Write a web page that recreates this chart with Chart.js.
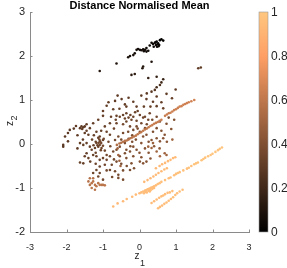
<!DOCTYPE html>
<html>
<head>
<meta charset="utf-8">
<script src="https://cdn.jsdelivr.net/npm/chart.js@4.4.1/dist/chart.umd.min.js"></script>
<style>
  html, body { margin: 0; padding: 0; background: #fff; }
</style>
</head>
<body>
<canvas id="chart-scatter" width="287" height="268"></canvas>
<script>
"use strict";

// each row: [z1, z2, distance normalised mean]
const topGroup = [
    [0.47,2.33,0.02],[0.51,2.29,0.02],[0.45,2.25,0.03],[0.56,2.36,0.01],[0.60,2.38,0.01],[0.65,2.35,0.02],
    [0.42,2.30,0.03],[0.37,2.27,0.03],[0.33,2.30,0.03],[0.48,2.21,0.04],[0.54,2.25,0.03],[0.39,2.21,0.04],
    [0.28,2.24,0.04],[0.50,2.27,0.02],[0.44,2.31,0.02],[0.52,2.22,0.03],[0.19,2.18,0.05],[0.15,2.14,0.05],
    [0.10,2.15,0.05],[0.05,2.13,0.06],[0.01,2.14,0.06],[-0.04,2.16,0.06],[-0.08,2.14,0.07],[0.24,2.12,0.06],
    [0.19,2.10,0.06],[0.12,2.11,0.06],[-0.13,2.06,0.07],[-0.17,2.02,0.08],[-0.26,2.00,0.08],[-0.31,1.97,0.09],
    [-0.63,1.83,0.10],[0.33,1.87,0.10],[0.10,1.76,0.12],[0.08,1.72,0.12],[-0.13,1.59,0.14],[-0.22,1.57,0.14],
    [-1.09,1.66,0.12],[0.47,1.53,0.16],[0.24,1.50,0.17],[0.65,1.47,0.18],[0.60,1.40,0.20],[0.47,1.29,0.22],
    [1.61,1.72,0.30],[1.68,1.74,0.30]
];

const midScatter = [
    [0.56,1.34,0.25],[0.42,1.23,0.27],[0.33,1.19,0.28],[0.74,1.14,0.30],[0.99,1.24,0.30],[0.47,1.08,0.30],
    [0.19,1.02,0.30],[0.37,0.96,0.31],[0.89,1.04,0.32],[-0.49,1.02,0.30],[-0.67,0.98,0.30],[-0.90,0.87,0.31],
    [-0.17,0.96,0.31],[-0.08,0.85,0.32],[-0.36,0.85,0.32],[-0.72,0.79,0.32],[-1.00,0.75,0.32],[0.47,0.86,0.33],
    [0.65,0.81,0.34],[-0.36,0.70,0.33],[-0.45,0.66,0.33],[-0.63,0.64,0.33],[-0.54,0.62,0.34],[-0.17,0.62,0.34],
    [0.01,0.66,0.34],[0.28,0.70,0.35],[0.47,0.62,0.36],[-0.22,0.55,0.35],[-0.08,0.53,0.35],[0.05,0.47,0.36],
    [-0.36,0.51,0.35],[0.24,0.55,0.36],[0.56,0.51,0.38],[0.74,0.46,0.40],[-1.00,0.64,0.32],[-1.13,0.55,0.32],
    [-0.81,0.47,0.33],[-0.63,0.47,0.34],[-0.30,0.60,0.34],[-0.25,0.66,0.34],[-0.40,0.58,0.34],[-0.12,0.72,0.33],
    [0.12,0.85,0.32],[-0.55,0.80,0.32],[-0.78,0.62,0.33],[0.15,0.62,0.35],
    [-1.74,0.41,0.30],[-1.63,0.36,0.30],[-1.54,0.38,0.30],[-1.50,0.40,0.30],[-1.59,0.40,0.30],[-1.57,0.34,0.30],
    [-1.91,0.32,0.29],[-1.96,0.25,0.29],[-2.04,0.17,0.29],[-2.09,-0.02,0.28],[-2.09,-0.06,0.28],[-1.96,0.06,0.29],
    [-1.36,0.36,0.31],[-1.27,0.47,0.31],[-1.18,0.28,0.32],[-1.40,0.21,0.31],[-1.09,0.17,0.33],[-0.90,0.28,0.34],
    [-0.81,0.21,0.34],[-1.00,0.09,0.34],
    [-1.18,0.02,0.34],[-1.09,-0.02,0.35],[-1.13,-0.06,0.34],[-1.22,-0.09,0.33],[-1.04,-0.09,0.35],[-1.12,0.03,0.35],
    [-1.08,0.06,0.35],[-1.15,-0.03,0.34],[-1.05,0.02,0.36],[-1.10,0.10,0.35],[-1.20,0.05,0.33],[-1.00,-0.04,0.36],
    [-1.13,0.14,0.34],[-1.26,-0.03,0.33],[-0.98,0.12,0.36],[-1.06,-0.14,0.35],
    [-1.63,0.02,0.31],[-1.54,-0.02,0.31],[-1.45,0.02,0.32],[-1.36,-0.06,0.32],[-1.31,-0.13,0.33],[-1.45,-0.21,0.32],
    [-1.50,-0.28,0.32],[-1.40,-0.32,0.33],[-1.63,-0.42,0.32],[-1.54,-0.44,0.32],[-1.27,-0.25,0.33],[-1.18,-0.28,0.34],
    [-1.09,-0.36,0.34],[-1.00,-0.32,0.35],[-0.90,-0.25,0.36],[-0.81,-0.28,0.36],[-0.72,-0.17,0.37],[-0.63,-0.13,0.38],
    [-0.54,-0.06,0.38],[-0.67,0.09,0.37],[-0.58,0.17,0.37],[-0.45,0.25,0.37],[-0.31,0.28,0.38],[-0.26,0.40,0.37],
    [-0.17,0.32,0.38],[-0.08,0.40,0.38],[0.01,0.28,0.40],[0.10,0.17,0.41],[0.19,0.21,0.41],[0.33,0.09,0.42],
    [0.47,0.13,0.42],[0.56,0.06,0.43],[0.69,0.21,0.42],[0.65,0.13,0.43],[0.87,0.34,0.42],[0.47,0.36,0.40],
    [0.37,0.28,0.40],[0.15,0.36,0.39],[-0.40,0.02,0.39],[-0.36,-0.13,0.39],[-0.26,-0.17,0.40],[-0.40,-0.21,0.39],
    [-0.54,-0.28,0.38],[-0.63,-0.40,0.37],[-0.36,-0.32,0.39],[-0.17,-0.28,0.40],[-0.08,-0.13,0.41],[0.01,-0.40,0.41],
    [0.10,-0.44,0.42],[0.19,-0.40,0.42],[-0.17,-0.06,0.41],[0.05,0.02,0.42],[-0.76,-0.47,0.36],[-0.81,-0.59,0.36],
    [-0.67,-0.62,0.37],[-0.58,-0.70,0.37],[-1.09,-0.51,0.34],[-1.18,-0.59,0.34],[-1.09,-0.66,0.35],[-1.13,-0.74,0.35],
    [-1.27,-0.66,0.34],[-0.58,-0.77,0.38],[-1.00,-0.81,0.36],[-0.95,-0.47,0.35],[-0.90,-0.36,0.35],[-0.45,-0.81,0.38],
    [-0.26,-0.59,0.39],[-0.22,-0.44,0.40],[-0.30,0.12,0.38],[-0.20,0.05,0.40],[-0.10,0.10,0.40],[0.00,-0.20,0.41],
    [0.25,-0.20,0.42],[-0.50,-0.45,0.38],[-0.45,0.45,0.36],[-0.70,0.35,0.35],[-0.85,0.05,0.36],[-0.95,-0.15,0.36],
    [-1.30,0.10,0.33],[-1.45,0.30,0.32],[-1.70,0.20,0.30],[0.30,-0.33,0.42],[0.55,-0.10,0.44],[0.35,0.55,0.37],
    [-0.05,0.75,0.33],[0.20,0.45,0.37],
    [-0.85,0.95,0.31],[-0.60,1.10,0.30],[-0.30,1.05,0.30],[0.05,1.10,0.30],[0.30,0.85,0.33],[0.60,0.95,0.32],
    [0.80,0.60,0.38],[0.95,0.55,0.40],[-1.45,0.45,0.31],[-1.25,0.20,0.32],[-1.55,0.10,0.31],[-1.70,-0.10,0.30],
    [-1.35,-0.40,0.33],[-1.20,-0.45,0.34],[-0.80,-0.05,0.37],[-0.70,-0.35,0.37],[-0.45,-0.60,0.38],[-0.35,-0.50,0.39],
    [-0.15,-0.55,0.40],[0.05,-0.30,0.41],[0.15,-0.10,0.42],[0.40,-0.05,0.43],[0.60,0.30,0.41],[0.75,0.05,0.44],
    [-0.20,0.20,0.39],[-0.05,0.35,0.39],[0.10,0.60,0.36],[-0.65,0.55,0.34],[-0.95,0.40,0.33],[-1.05,0.30,0.33],
    [-0.90,-0.60,0.36],[-0.75,-0.75,0.37],[-1.20,-0.20,0.34],[-0.50,0.10,0.38],[-0.25,-0.05,0.40],[0.25,0.05,0.42],
    [-1.50,0.25,0.31],[-1.80,0.35,0.29],[-0.40,0.90,0.31],[0.20,1.15,0.29]
];

const orangeBand = [
    [-0.62,-0.02,0.55],[-0.55,0.01,0.56],[-0.50,0.03,0.56],[-0.45,0.05,0.57],[-0.40,0.07,0.57],[-0.35,0.08,0.58],
    [-0.30,0.10,0.58],[-0.25,0.13,0.58],[-0.20,0.15,0.59],[-0.15,0.17,0.59],[-0.10,0.19,0.60],[-0.05,0.22,0.60],
    [0.00,0.25,0.60],[0.05,0.27,0.60],[0.10,0.30,0.61],[0.15,0.33,0.61],[0.20,0.35,0.61],[0.25,0.38,0.61],
    [0.30,0.41,0.62],[0.35,0.43,0.62],[0.40,0.46,0.62],[0.45,0.48,0.62],[0.50,0.50,0.62],[0.55,0.53,0.63],
    [0.60,0.55,0.63],[0.70,0.64,0.63],[0.75,0.67,0.63],[0.80,0.70,0.63],[0.85,0.71,0.64],[0.90,0.74,0.64],
    [0.95,0.77,0.64],[1.00,0.79,0.64],[1.05,0.82,0.64],[1.10,0.85,0.65],[1.15,0.86,0.65],[1.20,0.89,0.65],
    [1.25,0.91,0.65],[1.30,0.93,0.65],[1.35,0.95,0.66],[1.42,0.97,0.66],[1.50,1.00,0.66],
    [0.24,-0.06,0.50],[0.33,-0.09,0.50],[0.47,-0.17,0.50],[0.56,-0.28,0.52],[0.69,-0.21,0.50],[0.74,-0.25,0.50],
    [-0.60,-0.10,0.50],[-0.58,-0.25,0.50],[-0.55,-0.38,0.50],[-0.52,-0.50,0.50],[0.37,0.02,0.48],[0.90,0.10,0.50]
];

const kneeGroup = [
    [-1.40,-0.85,0.57],[-1.36,-0.93,0.57],[-1.31,-0.89,0.58],[-1.27,-0.85,0.58],[-1.22,-0.93,0.58],
    [-1.18,-0.96,0.58],[-1.31,-1.00,0.58],[-1.22,-1.04,0.58],[-1.09,-0.93,0.59],[-1.04,-0.93,0.59],
    [-1.00,-0.93,0.59],[-0.95,-0.94,0.59],[-1.13,-0.89,0.58],[-1.27,-0.78,0.56],[-1.36,-0.78,0.56]
];

const lightLines = [
    [-0.72,-1.42,0.93],[-0.60,-1.35,0.93],[-0.45,-1.30,0.93],[-0.35,-1.25,0.94],[-0.20,-1.20,0.94],
    [-0.10,-1.15,0.94],[0.00,-1.12,0.94],[0.05,-1.10,0.94],[0.10,-1.08,0.95],[0.15,-1.06,0.95],
    [0.18,-1.05,0.95],[0.22,-1.03,0.95],[0.26,-1.02,0.95],[0.30,-1.00,0.95],[0.33,-0.99,0.95],
    [0.37,-0.98,0.95],[0.40,-0.96,0.95],[0.45,-0.94,0.95],[0.50,-0.91,0.96],[0.55,-0.89,0.96],
    [0.60,-0.86,0.96],[0.70,-0.82,0.96],[0.80,-0.78,0.96],[0.85,-0.76,0.96],[0.95,-0.71,0.96],
    [1.00,-0.68,0.97],[1.05,-0.66,0.97],[1.10,-0.64,0.97],[1.20,-0.60,0.97],[1.30,-0.56,0.97],
    [1.35,-0.54,0.97],[1.42,-0.50,0.97],[1.50,-0.46,0.98],[1.55,-0.44,0.98],[1.60,-0.42,0.98],
    [1.70,-0.37,0.98],[1.75,-0.34,0.98],[1.80,-0.31,0.98],[1.88,-0.28,0.98],[1.95,-0.25,0.99],
    [2.00,-0.22,0.99],[2.08,-0.18,0.99],[2.15,-0.14,0.99],[2.20,-0.11,0.99],[2.26,-0.08,0.99],
    [0.12,-1.12,0.95],[0.20,-1.10,0.95],[0.25,-1.06,0.95],[0.30,-1.05,0.95],[0.35,-1.02,0.95],
    [0.40,-1.00,0.95],[0.16,-1.09,0.95],[0.28,-1.08,0.95],
    [0.51,-1.46,0.95],[0.56,-1.43,0.95],[0.62,-1.40,0.95],[0.68,-1.36,0.95],[0.74,-1.33,0.95],
    [0.80,-1.29,0.95],[0.86,-1.25,0.96],[0.92,-1.21,0.96],[0.98,-1.16,0.96],[1.03,-1.12,0.96],
    [1.10,-1.08,0.96],[1.18,-1.04,0.96],
    [0.33,-1.34,0.94],[0.40,-1.30,0.94],[0.47,-1.26,0.94],[0.54,-1.22,0.94],[0.60,-1.19,0.95],
    [0.65,-1.17,0.95],[0.70,-1.14,0.95],[0.77,-1.11,0.95],[0.83,-1.10,0.95],[0.90,-1.07,0.95],
    [0.13,-0.86,0.93],[0.22,-0.82,0.93],[0.30,-0.78,0.93],[0.38,-0.74,0.93],[0.45,-0.70,0.94],
    [0.52,-0.66,0.94],[0.60,-0.62,0.94],[0.68,-0.58,0.94],[0.75,-0.55,0.94],
    [0.45,-0.55,0.93],[0.55,-0.50,0.93],[0.62,-0.46,0.93],[0.70,-0.43,0.94],[0.78,-0.39,0.94],
    [0.85,-0.36,0.94],[0.92,-0.32,0.94],[0.98,-0.30,0.94]
];

const xTicks = [-3, -2, -1, 0, 1, 2, 3];
const yTicks = [-2, -1, 0, 1, 2, 3];
const cbTicks = [0, 0.2, 0.4, 0.6, 0.8, 1];

const FONT = "'Liberation Sans', Arial, Helvetica, sans-serif";
const TEXT_COLOR = '#262626';
const AXIS_COLOR = '#8a8a8a';

// matlab copper colormap
function copper(v) {
    const r = Math.min(1, 1.25 * v) * 255;
    const g = 0.7812 * v * 255;
    const b = 0.4975 * v * 255;
    return 'rgb(' + Math.round(r) + ',' + Math.round(g) + ',' + Math.round(b) + ')';
}

const all_points = [].concat(topGroup, midScatter, orangeBand, kneeGroup, lightLines);

const decor = {
    id: 'decor',
    afterDraw(chart) {
        const ctx = chart.ctx;
        const xs = chart.scales.x;
        const ys = chart.scales.y;
        const cb = chart.scales.cb;
        const area = chart.chartArea;

        ctx.save();
        // inward ticks
        ctx.strokeStyle = AXIS_COLOR;
        ctx.lineWidth = 1;
        ctx.beginPath();
        xTicks.forEach(v => {
            const px = Math.round(xs.getPixelForValue(v)) + 0.5;
            ctx.moveTo(px, area.bottom);
            ctx.lineTo(px, area.bottom - 2.5);
        });
        yTicks.forEach(v => {
            const py = Math.round(ys.getPixelForValue(v)) + 0.5;
            ctx.moveTo(area.left, py);
            ctx.lineTo(area.left + 2.5, py);
        });
        ctx.stroke();

        // colorbar
        const top = cb.getPixelForValue(1);
        const bottom = cb.getPixelForValue(0);
        const grad = ctx.createLinearGradient(0, bottom, 0, top);
        grad.addColorStop(0, copper(0));
        grad.addColorStop(0.8, copper(0.8));
        grad.addColorStop(1, copper(1));
        ctx.fillStyle = grad;
        ctx.fillRect(259, top, 9, bottom - top);
        ctx.strokeStyle = '#9a9a9a';
        ctx.lineWidth = 0.6;
        ctx.strokeRect(259, top, 9, bottom - top);

        ctx.fillStyle = TEXT_COLOR;
        ctx.font = '12px ' + FONT;
        ctx.textAlign = 'left';
        ctx.textBaseline = 'middle';
        cbTicks.forEach(v => {
            ctx.fillText(String(v), 271, cb.getPixelForValue(v) + 0.5);
        });

        // title
        ctx.fillStyle = '#000';
        ctx.font = 'bold 11px ' + FONT;
        ctx.textAlign = 'center';
        ctx.textBaseline = 'alphabetic';
        ctx.fillText('Distance Normalised Mean', 139.5, 9);

        // x label z_1
        ctx.fillStyle = TEXT_COLOR;
        ctx.textAlign = 'left';
        ctx.font = '10px ' + FONT;
        ctx.fillText('z', 134.5, 259);
        ctx.font = '9px ' + FONT;
        ctx.fillText('1', 140, 266);

        // y label z_2
        ctx.translate(13, 126);
        ctx.rotate(-Math.PI / 2);
        ctx.font = '10px ' + FONT;
        ctx.fillText('z', 0, 0);
        ctx.font = '9px ' + FONT;
        ctx.fillText('2', 5.5, 3.5);
        ctx.restore();
    }
};

function load_scatter(canvas_element) {
    new Chart(canvas_element, {
        type: 'scatter',
        data: {
            datasets: [{
                data: all_points.map(p => ({ x: p[0], y: p[1] })),
                pointBackgroundColor: all_points.map(p => copper(p[2])),
                pointBorderWidth: 0,
                pointRadius: 1.3,
                pointHoverRadius: 1.3
            }]
        },
        options: {
            responsive: false,
            animation: false,
            devicePixelRatio: 1,
            events: [],
            layout: { padding: { top: 12, left: 0, right: 0, bottom: 0 } },
            plugins: {
                legend: { display: false },
                tooltip: { enabled: false }
            },
            scales: {
                x: {
                    type: 'linear', position: 'bottom', min: -3, max: 3,
                    afterBuildTicks: s => { s.ticks = xTicks.map(v => ({ value: v })); },
                    ticks: { font: { size: 9, family: FONT }, color: TEXT_COLOR, padding: 10, maxRotation: 0 },
                    grid: { display: false, drawTicks: false },
                    border: { color: AXIS_COLOR, width: 1 },
                    afterFit: s => { s.height = 36; }
                },
                y: {
                    type: 'linear', position: 'left', min: -2, max: 3,
                    afterBuildTicks: s => { s.ticks = yTicks.map(v => ({ value: v })); },
                    ticks: { font: { size: 11, family: FONT }, color: TEXT_COLOR, padding: 5 },
                    grid: { display: false, drawTicks: false },
                    border: { color: AXIS_COLOR, width: 1 },
                    afterFit: s => { s.width = 30; }
                },
                cb: {
                    type: 'linear', position: 'right', min: 0, max: 1,
                    ticks: { display: false, padding: 0 },
                    grid: { display: false, drawTicks: false },
                    border: { display: false },
                    afterFit: s => { s.width = 38; }
                }
            }
        },
        plugins: [decor]
    });
}

load_scatter(document.getElementById('chart-scatter'));
</script>
</body>
</html>
